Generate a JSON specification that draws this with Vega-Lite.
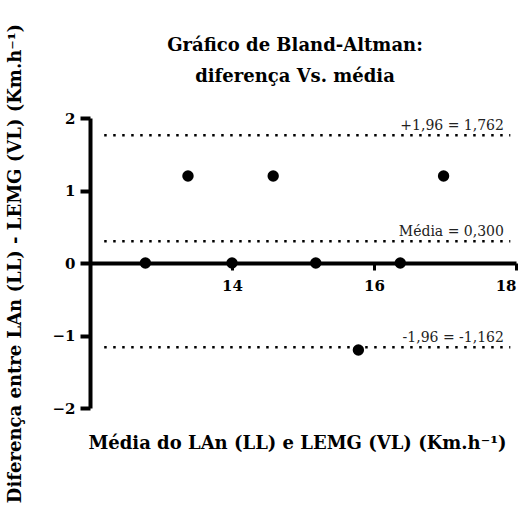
{
  "$schema": "https://vega.github.io/schema/vega-lite/v6.json",
  "width": 426,
  "height": 290,
  "autosize": "none",
  "padding": {"left": 90, "top": 118, "right": 14, "bottom": 114},
  "background": "white",
  "config": {
    "view": {"stroke": null},
    "font": "DejaVu Serif",
    "axis": {"grid": false, "domainColor": "black", "tickColor": "black", "labelColor": "black", "titleColor": "black", "zindex": 0}
  },
  "title": {
    "text": ["Gráfico de Bland-Altman:", "diferença Vs. média"],
    "font": "DejaVu Serif",
    "fontSize": 18,
    "fontWeight": "bold",
    "color": "black",
    "anchor": "middle",
    "frame": "group",
    "lineHeight": 31,
    "baseline": "alphabetic",
    "offset": -77,
    "dx": -8
  },
  "datasets": {
    "pares": [
      {"media": 12.78, "diferenca": 0},
      {"media": 14.0, "diferenca": 0},
      {"media": 15.18, "diferenca": 0},
      {"media": 16.37, "diferenca": 0},
      {"media": 13.38, "diferenca": 1.2},
      {"media": 14.58, "diferenca": 1.2},
      {"media": 16.98, "diferenca": 1.2},
      {"media": 15.78, "diferenca": -1.2}
    ],
    "limites": [
      {"estatistica": "+1,96", "valor": 1.762, "rotulo": "+1,96 = 1,762"},
      {"estatistica": "Média", "valor": 0.3, "rotulo": "Média = 0,300"},
      {"estatistica": "-1,96", "valor": -1.162, "rotulo": "-1,96 = -1,162"}
    ]
  },
  "layer": [
    {
      "data": {"name": "limites"},
      "mark": {"type": "rule", "color": "black", "strokeWidth": 2.5, "strokeDash": [2.5, 6.5], "strokeCap": "butt"},
      "encoding": {
        "x": {"datum": 12.2, "type": "quantitative"},
        "x2": {"datum": 17.92},
        "y": {"field": "valor", "type": "quantitative"}
      }
    },
    {
      "data": {"name": "limites"},
      "mark": {"type": "text", "align": "right", "baseline": "alphabetic", "dy": -5, "fontSize": 14, "font": "DejaVu Serif", "color": "#222222"},
      "encoding": {
        "x": {"datum": 17.83, "type": "quantitative"},
        "y": {"field": "valor", "type": "quantitative"},
        "text": {"field": "rotulo"}
      }
    },
    {
      "data": {"name": "pares"},
      "mark": {"type": "circle", "size": 130, "color": "black", "opacity": 1},
      "encoding": {
        "x": {
          "field": "media",
          "type": "quantitative",
          "scale": {"domain": [12, 18], "nice": false, "zero": false},
          "axis": {
            "values": [14, 16, 18],
            "format": "d",
            "offset": -145,
            "domainWidth": 4,
            "tickWidth": 3,
            "tickSize": 7,
            "labelFontSize": 15,
            "labelFontWeight": "bold",
            "labelFont": "DejaVu Serif",
            "labelPadding": 8,
            "title": "Média do LAn (LL) e LEMG (VL) (Km.h⁻¹)",
            "titleFont": "DejaVu Serif",
            "titleFontSize": 18,
            "titleFontWeight": "bold",
            "titleY": 180,
            "titleX": 207,
            "titleBaseline": "middle"
          }
        },
        "y": {
          "field": "diferenca",
          "type": "quantitative",
          "scale": {"domain": [-2, 2], "nice": false},
          "axis": {
            "values": [-2, -1, 0, 1, 2],
            "format": "d",
            "domainWidth": 4,
            "tickWidth": 4,
            "tickSize": 10,
            "labelFontSize": 15,
            "labelFontWeight": "bold",
            "labelFont": "DejaVu Serif",
            "labelPadding": 5,
            "title": "Diferença entre LAn (LL) - LEMG (VL) (Km.h⁻¹)",
            "titleFont": "DejaVu Serif",
            "titleFontSize": 18,
            "titleFontWeight": "bold",
            "titleX": -75,
            "titleY": 145,
            "titleBaseline": "middle"
          }
        }
      }
    }
  ]
}
